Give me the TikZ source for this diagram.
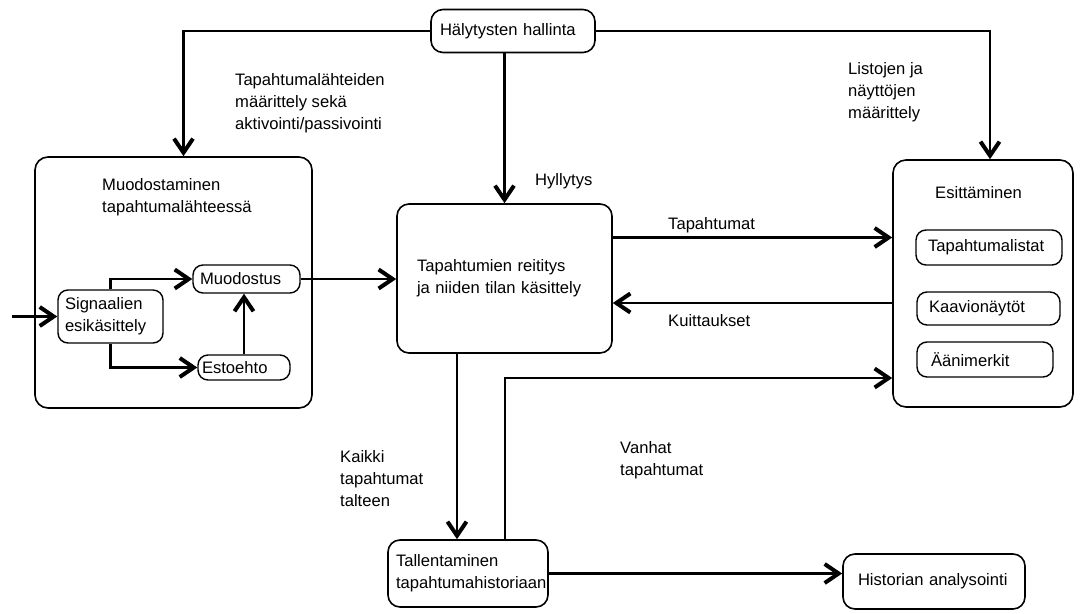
\documentclass[tikz,border=0pt]{standalone}
\usepackage{fontspec}
\setmainfont{Liberation Sans}
\usepackage{tikz}
\usetikzlibrary{arrows.meta,positioning,calc}
\hyphenpenalty=10000
\exhyphenpenalty=10000

\begin{document}
\begin{tikzpicture}[
  x=1pt, y=-1pt,
  font=\fontsize{16.6}{22}\selectfont,
  box/.style={draw, line width=1.6pt, rounded corners=12pt, align=left,
              inner ysep=3pt},
  pill/.style={draw, line width=1.4pt, rounded corners=10pt, align=left,
               inner ysep=3pt},
  frame/.style={draw, line width=1.6pt, rounded corners=13pt},
  lbl/.style={anchor=west, align=left, inner sep=0pt},
  arr/.style={line width=2.6pt,
              -{Straight Barb[length=14pt, width=19pt, line width=4pt]}}
]
\useasboundingbox (0,0) rectangle (1084,613);

\node[box, inner xsep=9pt, text width=146pt, minimum height=43pt]
  (hal) at (513,31) {Hälytysten hallinta};

\node[frame, minimum width=277pt, minimum height=251pt] (gen) at (173.5,282.5) {};
\node[lbl] (genT) at (102,197) {Muodostaminen\\tapahtumalähteessä};
\node[pill, inner xsep=7pt, text width=91pt, minimum height=53pt]
  (sig) at (110.5,316.5) {Signaalien\\esikäsittely};
\node[pill, inner xsep=7pt, text width=93pt, minimum height=28pt]
  (muo) at (246.5,279) {Muodostus};
\node[pill, inner xsep=4pt, text width=84pt, minimum height=25pt]
  (est) at (244,367.5) {Estoehto};

\node[box, inner xsep=20pt, text width=175pt, minimum height=149pt]
  (route) at (504.5,278.5) {Tapahtumien reititys\\ja niiden tilan käsittely\\[12pt]};

\node[frame, minimum width=180pt, minimum height=247pt] (pres) at (983,283.5) {};
\node[lbl] (presT) at (935,193) {Esittäminen};
\node[pill, inner xsep=12pt, text width=122pt, minimum height=35pt]
  (list) at (989,247.5) {Tapahtumalistat};
\node[pill, inner xsep=12pt, text width=119pt, minimum height=33pt]
  (chart) at (988.5,308.5) {Kaavionäytöt};
\node[pill, inner xsep=14pt, text width=108pt, minimum height=35pt]
  (sound) at (985,359.5) {Äänimerkit};

\node[box, inner xsep=8pt, text width=144pt, minimum height=67pt]
  (store) at (468,573.5) {Tallentaminen\\tapahtumahistoriaan};
\node[box, inner xsep=15pt, text width=152pt, minimum height=55pt]
  (hist) at (934,581.5) {Historian analysointi};

\node[lbl] (lblSrc) at (235,103)
  {Tapahtumalähteiden\\määrittely sekä\\aktivointi/passivointi};
\node[lbl] (lblList) at (848,92) {Listojen ja\\näyttöjen\\määrittely};
\node[lbl] (lblShelf) at (535,181) {Hyllytys};
\node[lbl] (lblEv) at (668,225) {Tapahtumat};
\node[lbl] (lblAck) at (668,321) {Kuittaukset};
\node[lbl] (lblAll) at (340,479) {Kaikki\\tapahtumat\\talteen};
\node[lbl] (lblOld) at (620,460) {Vanhat\\tapahtumat};

\coordinate (in) at (12,316.5);
\coordinate (genIn) at ([xshift=10pt]gen.north);
\coordinate (presIn) at ([xshift=7pt]pres.north);
\coordinate (evOut) at ([yshift=41pt]route.east);
\coordinate (ackIn) at ([yshift=-24.5pt]route.east);
\coordinate (allOut) at ([xshift=-47.5pt]route.south);
\coordinate (oldOut) at ([xshift=37pt]store.north);
\coordinate (oldIn) at ([yshift=-94.5pt]pres.west);

\draw[arr] (hal.west) -| (genIn);
\draw[arr] (hal.east) -| (presIn);
\draw[arr] (hal.south -| route.north) -- (route.north);
\draw[arr] (in) -- (sig.west);
\draw[arr] (sig.north) |- (muo.west);
\draw[arr] (sig.south) |- (est.west);
\draw[arr] (est.north) -- (est.north |- muo.south);
\draw[arr] (muo.east) -- (muo.east -| route.west);
\draw[arr] (evOut) -- (evOut -| pres.west);
\draw[arr] (ackIn -| pres.west) -- (ackIn);
\draw[arr] (allOut) -- (allOut |- store.north);
\draw[arr] (oldOut) |- (oldIn);
\draw[arr] (store.east) -- (store.east -| hist.west);
\end{tikzpicture}
\end{document}
